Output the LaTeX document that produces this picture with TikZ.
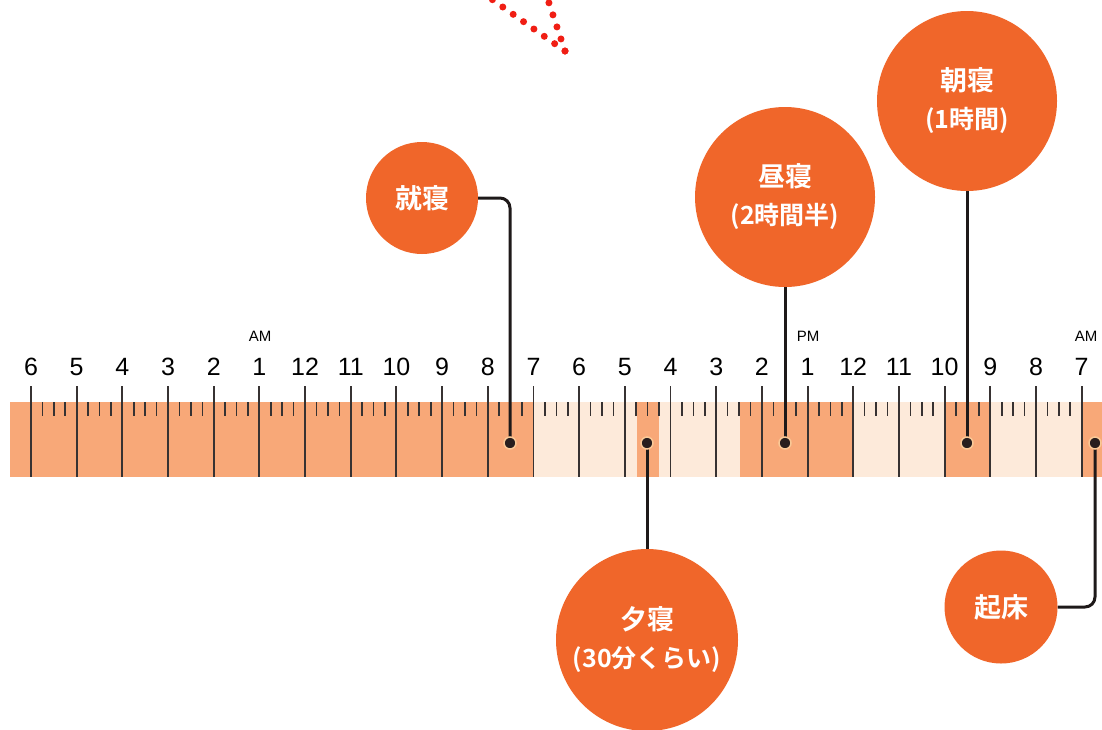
\documentclass[tikz,border=0pt]{standalone}
\usepackage{fontspec}
\setmainfont{Liberation Sans}
\newfontfamily\cjkb{Noto Sans CJK JP Bold}
\definecolor{sleepc}{RGB}{248,168,120}
\definecolor{awakec}{RGB}{253,234,218}
\definecolor{tickc}{RGB}{55,50,50}
\definecolor{bubc}{RGB}{240,102,42}
\definecolor{dotc}{RGB}{40,30,30}
\definecolor{pinring}{RGB}{250,200,150}
\definecolor{connc}{RGB}{30,25,25}
\definecolor{redc}{RGB}{240,30,20}
\pgfdeclarelayer{bg}
\pgfdeclarelayer{fg}
\pgfsetlayers{bg,main,fg}
\begin{document}
\begin{tikzpicture}[x=1pt,y=-1pt,
  sleep/.style={fill=sleepc, draw=none},
  awake/.style={fill=awakec, draw=none},
  hourline/.style={draw=tickc, line width=1.9pt},
  qtick/.style={draw=tickc, line width=1.6pt},
  hourlab/.style={font=\fontsize{25}{25}\selectfont, text=black, inner sep=0pt},
  ampm/.style={font=\fontsize{15}{15}\selectfont, text=black, inner sep=0pt},
  bubble/.style={circle, fill=bubc, text=white, align=center, inner sep=0pt, font=\cjkb\fontsize{27}{38}\selectfont},
  pin/.style={circle, fill=dotc, draw=pinring, line width=1.5pt, minimum size=12pt, inner sep=0pt},
  conn/.style={draw=connc, line width=3pt, rounded corners=10pt},
  reddots/.style={draw=redc, line width=7pt, line cap=round, dash pattern=on 0pt off 12.7pt}]
\useasboundingbox (0,0) rectangle (1102,729);
\clip (0,0) rectangle (1102,729);

\begin{pgfonlayer}{bg}
\fill[white] (0,0) rectangle (1102,729);
% bar
\fill[sleep] (10,402) rectangle (533,477);
\fill[awake] (533,402) rectangle (637,477);
\fill[sleep] (637,402) rectangle (659,477);
\fill[awake] (659,402) rectangle (740,477);
\fill[sleep] (740,402) rectangle (852,477);
\fill[awake] (852,402) rectangle (944,477);
\fill[sleep] (944,402) rectangle (990,477);
\fill[awake] (990,402) rectangle (1083,477);
\fill[sleep] (1083,402) rectangle (1102,477);
% ticks
\foreach \i/\l in {0/6,1/5,2/4,3/3,4/2,5/1,6/12,7/11,8/10,9/9,10/8,11/7,12/6,13/5,14/4,15/3,16/2,17/1,18/12,19/11,20/10,21/9,22/8,23/7}{
  \pgfmathsetmacro{\xx}{31+45.68*\i}
  \draw[hourline] (\xx,386) -- (\xx,477);
  \node[hourlab] (h\i) at (\xx,367) {\l};
  \ifnum\i<23
    \foreach \q in {1,2,3}{
      \pgfmathsetmacro{\xq}{\xx+11.42*\q}
      \draw[qtick] (\xq,402) -- (\xq,416);
    }
  \fi
}
\end{pgfonlayer}

% dotted red lines
\draw[reddots] (565,51) -- (483,-7);
\draw[reddots] (565,51) -- (546,-6);

\node[ampm] (am1) at (260,336) {AM};
\node[ampm] (pm1) at (808,336) {PM};
\node[ampm] (am2) at (1086,336) {AM};

\begin{pgfonlayer}{fg}
\node[pin] (p1) at (510,443) {};
\node[pin] (p2) at (647,443) {};
\node[pin] (p3) at (785,443) {};
\node[pin] (p4) at (967,443) {};
\node[pin] (p5) at (1095,443) {};
\node[bubble, minimum size=112pt] (bed) at (422,198) {就寝};
\node[bubble, minimum size=180pt] (noon) at (785,197) {昼寝\\{\fontsize{25}{38}\selectfont(2時間半)}};
\node[bubble, minimum size=180pt] (morning) at (967,101) {朝寝\\{\fontsize{25}{38}\selectfont(1時間)}};
\node[bubble, minimum size=182pt] (evening) at (647,640) {夕寝\\{\fontsize{25}{38}\selectfont(30分くらい)}};
\node[bubble, minimum size=113pt] (wake) at (1001,607) {起床};
\end{pgfonlayer}

\draw[conn] (bed.east) -| (p1.center);
\draw[conn] (noon.south) -- (p3.center);
\draw[conn] (morning.south) -- (p4.center);
\draw[conn] (p2.center) -- (evening.north);
\draw[conn] (wake.east) -| (p5.center);
\end{tikzpicture}
\end{document}
